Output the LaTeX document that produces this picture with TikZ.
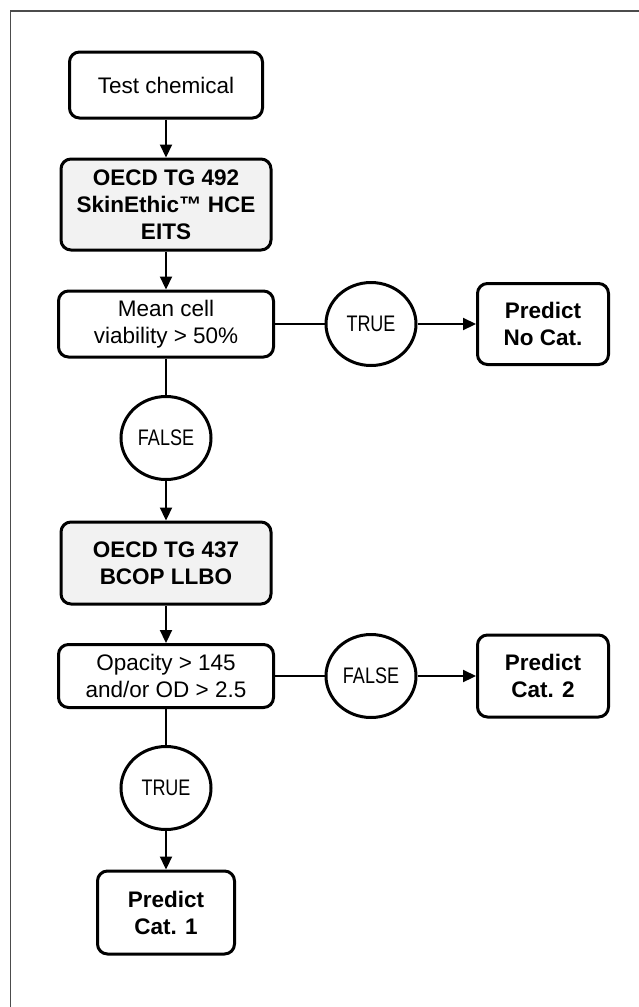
\documentclass[tikz,border=0pt]{standalone}
\usepackage{fontspec}
\setmainfont{Liberation Sans}
\usetikzlibrary{arrows.meta, shapes.geometric}

\begin{document}
\begin{tikzpicture}[x=1pt, y=-1pt, >={Triangle[length=13pt,width=12pt]},
		box/.style={draw, line width=3pt, rounded corners=10pt, align=center, inner sep=0pt, font=\fontsize{22.5}{27}\selectfont},
		assay/.style={box, fill=black!5, font=\fontsize{22.5}{27}\selectfont\bfseries},
		verdict/.style={box, font=\fontsize{22.5}{27}\selectfont\bfseries},
		answer/.style={draw, ellipse, line width=3pt, inner sep=0pt, minimum width=90pt, minimum height=83pt, font=\fontsize{22.5}{27}\selectfont},
		link/.style={line width=2.2pt}]
		\useasboundingbox (0,0) rectangle (639,1007);
		\draw[line width=1.5pt, black!70] (639,11) -- (10.5,11) -- (10.5,1007);

		% main column
		\node[box, minimum width=193pt, minimum height=66pt] (chem) at (166,85) {Test chemical};
		\node[assay, minimum width=210pt, minimum height=91pt] (tg492) at (166,204.5) {OECD TG 492\\SkinEthic\texttrademark\ HCE\\EITS};
		\node[box, minimum width=215pt, minimum height=66pt] (viab) at (166,324) {Mean cell\\viability > 50\%};
		\node[answer] (no1) at (166,438) {\scalebox{0.8}[1]{FALSE}};
		\node[assay, minimum width=210pt, minimum height=82pt] (tg437) at (166,563) {OECD TG 437\\BCOP LLBO};
		\node[box, minimum width=215pt, minimum height=63pt] (opac) at (166,676) {Opacity > 145\\and/or OD > 2.5};
		\node[answer] (yes2) at (166,788) {\scalebox{0.8}[1]{TRUE}};
		\node[verdict, minimum width=137pt, minimum height=83pt] (cat1) at (166,912.5) {Predict\\Cat. 1};

		% right branches
		\node[answer] (yes1) at (371,324) {\scalebox{0.8}[1]{TRUE}};
		\node[verdict, minimum width=131pt, minimum height=81pt] (nocat) at (543,324) {Predict\\No Cat.};
		\node[answer] (no2) at (371,676) {\scalebox{0.8}[1]{FALSE}};
		\node[verdict, minimum width=131pt, minimum height=82pt] (cat2) at (543,676) {Predict\\Cat. 2};

		\draw[link,->] (chem) -- (tg492); \draw[link,->] (tg492) -- (viab);
		\draw[link] (viab) -- (yes1); \draw[link,->] (yes1) -- (nocat);
		\draw[link] (viab) -- (no1); \draw[link,->] (no1) -- (tg437);
		\draw[link,->] (tg437) -- (opac);
		\draw[link] (opac) -- (no2); \draw[link,->] (no2) -- (cat2);
		\draw[link] (opac) -- (yes2); \draw[link,->] (yes2) -- (cat1);
	\end{tikzpicture}
\end{document}
